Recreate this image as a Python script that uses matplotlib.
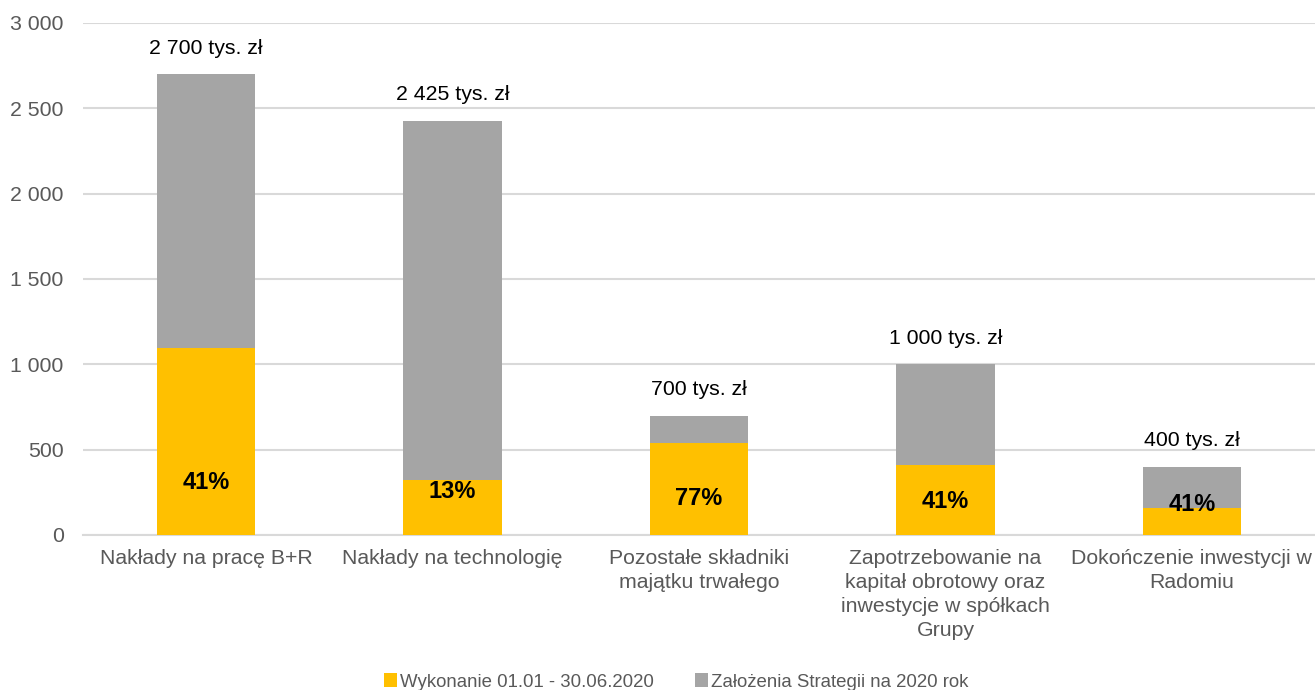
import numpy as np
import matplotlib.pyplot as plt

plt.rcParams['font.family'] = ['Liberation Sans', 'DejaVu Sans']

categories = ["Nakłady na pracę B+R", "Nakłady na technologię",
              "Pozostałe składniki\nmajątku trwałego",
              "Zapotrzebowanie na\nkapitał obrotowy oraz\ninwestycje w spółkach\nGrupy",
              "Dokończenie inwestycji w\nRadomiu"]
plan = [2700, 2425, 700, 1000, 400]          # Założenia Strategii na 2020 rok
done = [1095, 322, 539, 410, 160]            # Wykonanie 01.01 - 30.06.2020
pct_labels = ["41%", "13%", "77%", "41%", "41%"]
pct_y = [310, 252, 213, 199, 176]
top_labels = ["2 700 tys. zł", "2 425 tys. zł", "700 tys. zł", "1 000 tys. zł", "400 tys. zł"]
yticks = [0, 500, 1000, 1500, 2000, 2500, 3000]
ytick_labels = ["0", "500", "1 000", "1 500", "2 000", "2 500", "3 000"]

yellow = '#FFC000'
grey = '#A5A5A5'
txt_grey = '#595959'

fig = plt.figure(figsize=(13.15, 6.9), dpi=100)
ax = fig.add_axes([83/1315, 155/690, 1232/1315, 512/690])

x = np.arange(len(categories))
rest = [p - d for p, d in zip(plan, done)]
ax.bar(x, done, width=0.4, color=yellow, label="Wykonanie 01.01 - 30.06.2020", zorder=3)
ax.bar(x, rest, width=0.4, bottom=done, color=grey, label="Założenia Strategii na 2020 rok", zorder=3)

for i in range(len(x)):
    ax.text(x[i], pct_y[i], pct_labels[i], ha='center', va='center',
            fontsize=17, fontweight='bold', color='black', zorder=4)
    ax.annotate(top_labels[i], (x[i], plan[i]), xytext=(0, 12), textcoords='offset points',
                ha='center', va='bottom', fontsize=15.3, color='black')

ax.set_xlim(-0.5, 4.5)
ax.set_ylim(0, 3000)
ax.set_yticks(yticks)
ax.set_yticklabels(ytick_labels)
ax.set_xticks(x)
ax.set_xticklabels(categories, linespacing=1.33)
ax.tick_params(axis='y', length=0, pad=14, labelsize=15.3, labelcolor=txt_grey)
ax.tick_params(axis='x', length=0, pad=10, labelsize=15.3, labelcolor=txt_grey)
ax.grid(axis='y', color='#D9D9D9', linewidth=1.5, zorder=0)
for s in ['top', 'right', 'left']:
    ax.spines[s].set_visible(False)
ax.spines['bottom'].set_color('#D9D9D9')
ax.spines['bottom'].set_linewidth(1.5)

fig.legend(loc='center', bbox_to_anchor=(676/1315, 1 - 682/690), ncol=2, frameon=False,
           fontsize=13.4, labelcolor=txt_grey, handlelength=0.7, handleheight=0.7,
           handletextpad=0.15, columnspacing=2.2)

fig.savefig('out.png', dpi=100)
